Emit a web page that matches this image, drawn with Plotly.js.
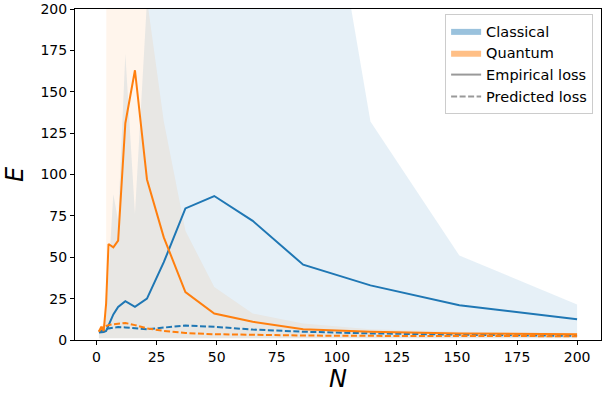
<!DOCTYPE html>
<html>
<head>
<meta charset="utf-8">
<script src="https://cdn.plot.ly/plotly-3.0.1.min.js"></script>
<style>
  html, body { margin: 0; padding: 0; background: #fff; }
  #graph { width: 602px; height: 394px; }
</style>
</head>
<body>
<div id="graph"></div>
<script>
// training set sizes
const sizes = [1, 2, 3, 4, 5, 7, 9, 12, 16, 21, 28, 37, 49, 65, 86, 114, 151, 200];

// classical model
const classicalEmpirical = [4.5, 4.6, 4.8, 5.5, 9, 15.5, 20, 23.5, 20, 25, 47, 79.5, 87, 72, 45.5, 33, 21, 12.5];
const classicalPredicted = [5, 5.5, 6, 6.5, 7, 7.5, 7.8, 7.6, 7, 6.5, 7.5, 8.7, 8, 6.3, 5, 4, 3.2, 2.5];
const classicalLower = [1, 1, 1, 1, 1, 1, 1, 1, 1, 1, 1, 1, 1, 1, 1, 1, 1, 1];
const classicalUpper = [6, 7, 9, 15, 40, 88, 72, 173, 76, 205, 900, 1500, 1300, 900, 370, 132, 51, 21.5];

// quantum model
const quantumEmpirical = [5, 8, 5.5, 22, 58, 56, 60, 131, 163, 97, 62, 29, 16, 11, 6.5, 5, 4, 3.5];
const quantumPredicted = [5.5, 7, 8, 8.5, 9, 9.5, 10, 10.3, 9, 7, 5.5, 4.2, 3.5, 3, 2.7, 2.5, 2.4, 2.3];
const quantumLower = [1, 1, 1, 1, 1, 1, 1, 1, 1, 1, 1, 1, 1, 1, 1, 1, 1, 1];
const quantumUpper = [6, 9, 10, 30, 2000, 2000, 2000, 2000, 2000, 206, 132, 66, 32, 16, 10, 6.5, 5, 4.2];

const blue = '#1f77b4';
const orange = '#ff7f0e';

function band(lower, upper, fill) {
    return [
        { x: sizes, y: lower, mode: 'lines', line: { width: 0 }, showlegend: false, hoverinfo: 'skip' },
        { x: sizes, y: upper, mode: 'lines', line: { width: 0 }, fill: 'tonexty',
          fillcolor: fill, showlegend: false, hoverinfo: 'skip' }
    ];
}

function curve(y, color, dash) {
    return { x: sizes, y: y, mode: 'lines', line: { color: color, width: 2, dash: dash }, showlegend: false };
}

// legend only entries
function legendPatch(name, fill) {
    return { x: [null], y: [null], mode: 'lines', fill: 'toself', fillcolor: fill,
             line: { width: 0 }, name: name };
}
function legendLine(name, dash) {
    return { x: [null], y: [null], mode: 'lines', name: name,
             line: { color: 'rgba(128,128,128,0.8)', width: 2, dash: dash } };
}

const traces = [
    ...band(classicalLower, classicalUpper, 'rgba(31,119,180,0.11)'),
    ...band(quantumLower, quantumUpper, 'rgba(255,127,14,0.08)'),
    curve(classicalEmpirical, blue, 'solid'),
    curve(classicalPredicted, blue, '6px,2.5px'),
    curve(quantumEmpirical, orange, 'solid'),
    curve(quantumPredicted, orange, '6px,2.5px'),
    legendPatch('Classical', 'rgba(31,119,180,0.45)'),
    legendPatch('Quantum', 'rgba(255,127,14,0.5)'),
    legendLine('Empirical loss', 'solid'),
    legendLine('Predicted loss', '6px,2.5px')
];

const ticks = [0, 25, 50, 75, 100, 125, 150, 175, 200];

const axisStyle = {
    showline: true, mirror: true, linecolor: '#000', linewidth: 1,
    ticks: 'outside', ticklen: 4, tickcolor: '#000', tickwidth: 1,
    showgrid: false, zeroline: false, ticklabeloverflow: 'allow',
    tickfont: { family: 'DejaVu Sans', size: 14, color: '#000' }
};

const layout = {
    width: 602, height: 394,
    margin: { l: 75, r: 1, t: 9, b: 54 },
    paper_bgcolor: '#fff', plot_bgcolor: '#fff',
    font: { family: 'DejaVu Sans', color: '#000' },
    xaxis: { ...axisStyle, range: [-8.95, 209.95], tickvals: ticks,
             title: { text: '<i>N</i>', font: { family: 'DejaVu Sans', size: 24 }, standoff: 4 } },
    yaxis: { ...axisStyle, range: [0, 200], tickvals: ticks,
             title: { text: '<i>E</i>', font: { family: 'DejaVu Sans', size: 24 }, standoff: 10 } },
    legend: {
        x: 0.985, y: 0.985, xanchor: 'right', yanchor: 'top',
        traceorder: 'normal',
        bgcolor: 'rgba(255,255,255,0.8)', bordercolor: '#ccc', borderwidth: 1,
        font: { family: 'DejaVu Sans', size: 14.5, color: '#000' },
        tracegroupgap: 0
    },
    showlegend: true
};

Plotly.newPlot('graph', traces, layout, { displayModeBar: false, staticPlot: true });
</script>
</body>
</html>
